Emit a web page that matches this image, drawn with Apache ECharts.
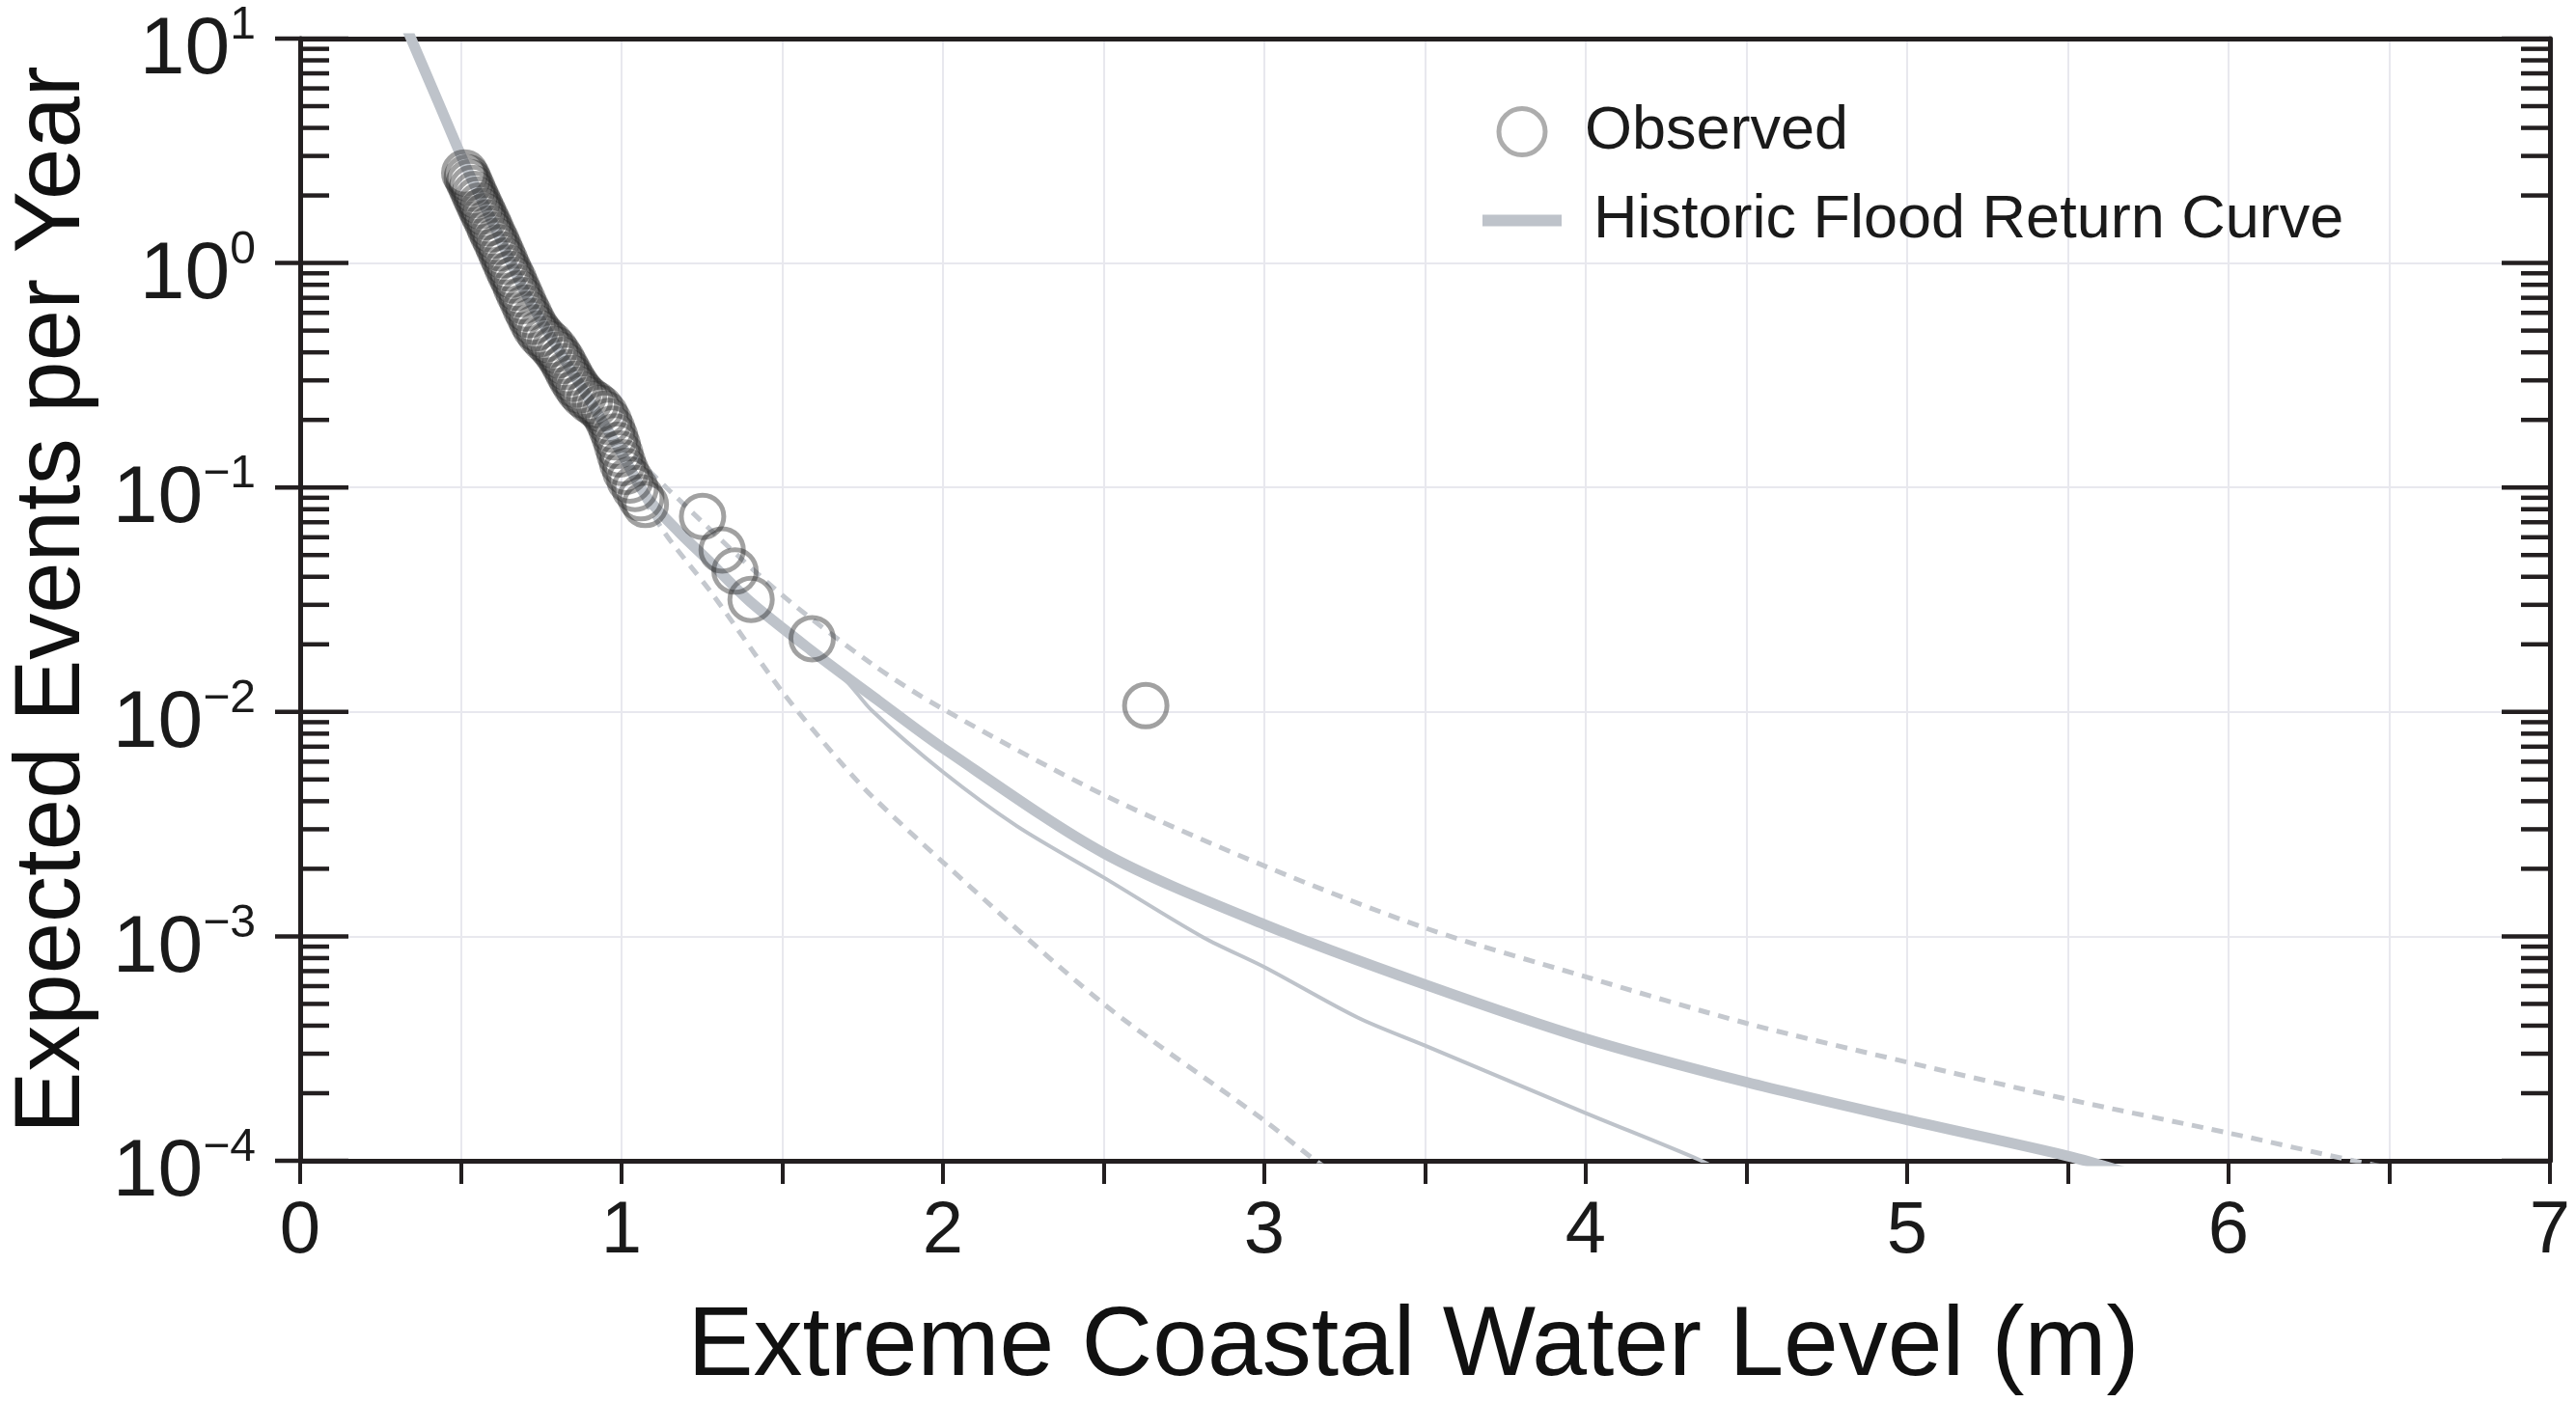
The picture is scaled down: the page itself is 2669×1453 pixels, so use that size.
<!DOCTYPE html>
<html>
<head>
<meta charset="utf-8">
<title>Flood return curve</title>
<script src="https://cdn.jsdelivr.net/npm/echarts@6/dist/echarts.min.js"></script>
<style>
html, body { margin: 0; padding: 0; background: #fff; }
#container { width: 2669px; height: 1453px; }
</style>
</head>
<body>
<div id="container"></div>
<script>
// observed events (water level in m, expected events per year)
var obsLevel = [0.512, 0.520, 0.527, 0.535, 0.543, 0.551, 0.559, 0.567, 0.575, 0.584,
    0.592, 0.601, 0.610, 0.619, 0.628, 0.637, 0.646, 0.655, 0.664, 0.673,
    0.682, 0.692, 0.702, 0.712, 0.722, 0.733, 0.746, 0.762, 0.778, 0.792,
    0.804, 0.815, 0.825, 0.835, 0.845, 0.856, 0.868, 0.882, 0.900, 0.918,
    0.934, 0.948, 0.960, 0.970, 0.979, 0.987, 0.995, 1.003, 1.013, 1.026,
    1.042, 1.060, 1.074,
    1.252, 1.313, 1.353, 1.403, 1.593, 2.631];
var obsRate = [2.52, 2.40, 2.28, 2.15, 2.02, 1.91, 1.80, 1.70, 1.61, 1.51,
    1.42, 1.33, 1.25, 1.17, 1.09, 1.02, 0.95, 0.89, 0.84, 0.78,
    0.73, 0.68, 0.63, 0.59, 0.55, 0.515, 0.485, 0.458, 0.435, 0.412,
    0.39, 0.368, 0.346, 0.325, 0.306, 0.288, 0.272, 0.258, 0.245, 0.235,
    0.225, 0.212, 0.197, 0.182, 0.168, 0.154, 0.141, 0.129, 0.118, 0.108,
    0.099, 0.090, 0.084,
    0.0743, 0.0527, 0.0424, 0.0317, 0.0212, 0.01066];

// historic flood return curve
var curveLevel = [0.32, 0.345, 0.43, 0.52, 0.60, 0.70, 0.80, 0.90, 1.00, 1.08, 1.18, 1.28, 1.40,
    1.59, 1.80, 2.00, 2.50, 3.00, 3.50, 4.00, 4.50, 5.00, 5.50, 5.70];
var curveRate = [12.2, 10, 5.2, 2.6, 1.5, 0.74, 0.42, 0.245, 0.142, 0.090, 0.063, 0.0458, 0.0310,
    0.0188, 0.0112, 0.0069, 0.00235, 0.00113, 0.00061, 0.00035, 0.000224, 0.000152, 0.000105, 0.000087];

// thin solid curve
var thinLevel = [1.59, 1.70, 1.78, 2.00, 2.23, 2.50, 2.81, 3.00, 3.29, 3.50, 4.00, 4.36, 4.45];
var thinRate = [0.0188, 0.0137, 0.0101, 0.0054, 0.0031, 0.00183, 0.00099, 0.00073, 0.000435,
    0.000326, 0.000163, 0.0001, 0.000085];

// upper and lower dashed bounds
var upLevel = [0.95, 1.15, 1.48, 1.78, 2.00, 2.50, 3.00, 3.50, 4.00, 4.50, 5.00, 5.50, 6.00, 6.39, 6.60];
var upRate = [0.185, 0.0966, 0.035, 0.0163, 0.0103, 0.00427, 0.00206, 0.00109, 0.00066, 0.00041,
    0.000275, 0.000188, 0.000133, 0.0001, 0.000087];
var lowLevel = [0.95, 1.12, 1.28, 1.50, 1.68, 1.78, 2.00, 2.50, 3.00, 3.16, 3.25];
var lowRate = [0.185, 0.0673, 0.0339, 0.0123, 0.0060, 0.0042, 0.00214, 0.0005, 0.000151, 0.0001, 0.000082];

// axes
var yExponents = [-4, -3, -2, -1, 0, 1];
var xTicks = [0, 1, 2, 3, 4, 5, 6, 7];

var font = "'Liberation Sans', Arial, Helvetica, sans-serif";
var ink = '#231f20';
var curveColor = '#bec3ca';
var gridColor = '#e8e8ee';

function pairs(xs, ys) {
    var out = [];
    for (var i = 0; i < xs.length; i++) out.push([xs[i], ys[i]]);
    return out;
}

// y tick positions: decades plus 2..9 inside each decade
var tickData = [];
for (var i = 0; i < yExponents.length; i++) {
    var e = yExponents[i];
    tickData.push([0, Math.pow(10, e), 1]);
    if (i < yExponents.length - 1) {
        for (var m = 2; m <= 9; m++) tickData.push([0, m * Math.pow(10, e), 0]);
    }
}

var dom = document.getElementById('container');
var myChart = echarts.init(dom);

var option = {
    backgroundColor: '#fff',
    animation: false,
    textStyle: { fontFamily: font },
    grid: { left: 306, right: 27, top: 40, bottom: 248 },
    legend: {
        orient: 'vertical',
        left: 1531,
        top: 100,
        itemWidth: 82,
        itemHeight: 48,
        itemGap: 29,
        textStyle: { fontFamily: font, fontSize: 63, lineHeight: 63, color: '#1a1a1a' },
        data: [
            { name: 'Observed', itemStyle: { borderColor: '#999', borderWidth: 5, color: 'transparent' },
              textStyle: { padding: [0, 0, 0, 19] } },
            { name: 'Historic Flood Return Curve', icon: 'path://M0,0H82V12H0Z',
              itemStyle: { color: curveColor, borderWidth: 0 },
              textStyle: { padding: [0, 0, 0, 28] } }
        ]
    },
    xAxis: [{
        type: 'value',
        min: 0,
        max: 7,
        interval: 1,
        name: 'Extreme Coastal Water Level (m)',
        nameLocation: 'middle',
        nameGap: 143,
        nameTextStyle: { fontFamily: font, fontSize: 102, color: '#111', padding: [0, 24, 0, 0] },
        axisLine: { show: true, onZero: false, lineStyle: { color: ink, width: 5 } },
        axisTick: { show: true, inside: false, length: 24, lineStyle: { color: ink, width: 4 } },
        minorTick: { show: true, splitNumber: 2, length: 24, lineStyle: { color: ink, width: 4 } },
        axisLabel: {
            margin: 36, fontFamily: font, fontSize: 76, color: '#1a1a1a',
            formatter: function (v) { return xTicks.indexOf(v) >= 0 ? String(v) : ''; }
        },
        splitLine: { show: true, lineStyle: { color: gridColor, width: 2 } },
        minorSplitLine: { show: true, lineStyle: { color: gridColor, width: 2 } }
    }, {
        type: 'value',
        position: 'top',
        min: 0,
        max: 7,
        axisLine: { show: true, onZero: false, lineStyle: { color: ink, width: 5 } },
        axisTick: { show: false },
        axisLabel: { show: false },
        splitLine: { show: false }
    }],
    yAxis: [{
        type: 'log',
        logBase: 10,
        min: 1e-4,
        max: 10,
        name: 'Expected Events per Year',
        nameLocation: 'middle',
        nameRotate: 90,
        nameGap: 207,
        nameTextStyle: { fontFamily: font, fontSize: 96, color: '#111' },
        axisLine: { show: true, onZero: false, lineStyle: { color: ink, width: 5 } },
        axisTick: { show: false },
        axisLabel: {
            margin: 46,
            padding: [18, 0, 0, 0],
            formatter: function (v) {
                var e = Math.round(Math.log10(v));
                return '{b|10}{s|' + (e < 0 ? '\u2212' + (-e) : e) + '}';
            },
            rich: {
                b: { fontFamily: font, fontSize: 84, color: '#1a1a1a', padding: [8, 0, 0, 0] },
                s: { fontFamily: font, fontSize: 48, color: '#1a1a1a', verticalAlign: 'top' }
            }
        },
        splitLine: { show: true, lineStyle: { color: gridColor, width: 2 } }
    }, {
        type: 'log',
        logBase: 10,
        min: 1e-4,
        max: 10,
        position: 'right',
        axisLine: { show: true, onZero: false, lineStyle: { color: ink, width: 5 } },
        axisTick: { show: false },
        axisLabel: { show: false },
        splitLine: { show: false }
    }],
    series: [
        {
            name: 'Lower bound',
            type: 'line',
            data: pairs(lowLevel, lowRate),
            smooth: 0.3,
            showSymbol: false,
            symbol: 'none',
            lineStyle: { color: '#c4c8ce', width: 5, type: [12, 9] },
            z: 2
        },
        {
            name: 'Upper bound',
            type: 'line',
            data: pairs(upLevel, upRate),
            smooth: 0.3,
            showSymbol: false,
            symbol: 'none',
            lineStyle: { color: '#c4c8ce', width: 5, type: [12, 9] },
            z: 2
        },
        {
            name: 'Thin curve',
            type: 'line',
            data: pairs(thinLevel, thinRate),
            smooth: 0.3,
            showSymbol: false,
            symbol: 'none',
            lineStyle: { color: curveColor, width: 4 },
            z: 2
        },
        {
            name: 'Historic Flood Return Curve',
            type: 'line',
            data: pairs(curveLevel, curveRate),
            smooth: 0.3,
            showSymbol: false,
            symbol: 'none',
            lineStyle: { color: curveColor, width: 11 },
            itemStyle: { color: curveColor },
            z: 3
        },
        {
            name: 'Observed',
            type: 'scatter',
            data: pairs(obsLevel, obsRate),
            symbol: 'circle',
            symbolSize: 44,
            itemStyle: { color: 'transparent', borderColor: 'rgba(40,40,40,0.55)', borderWidth: 5 },
            z: 4
        },
        {
            name: 'yticks',
            type: 'custom',
            data: tickData,
            encode: { x: 0, y: 1 },
            clip: false,
            silent: true,
            z: 6,
            renderItem: function (params, api) {
                var v = api.value(1);
                var major = api.value(2) === 1;
                var y = api.coord([0, v])[1];
                var cs = params.coordSys;
                var xl = cs.x, xr = cs.x + cs.width;
                var len = major ? 50 : 30;
                var st = { stroke: ink, lineWidth: 4.5 };
                return {
                    type: 'group',
                    children: [
                        { type: 'line', shape: { x1: major ? xl - 26 : xl, y1: y, x2: xl + len, y2: y }, style: st },
                        { type: 'line', shape: { x1: xr - len, y1: y, x2: xr, y2: y }, style: st }
                    ]
                };
            }
        }
    ]
};

if (option && typeof option === 'object') {
    myChart.setOption(option, true);
}
</script>
</body>
</html>
